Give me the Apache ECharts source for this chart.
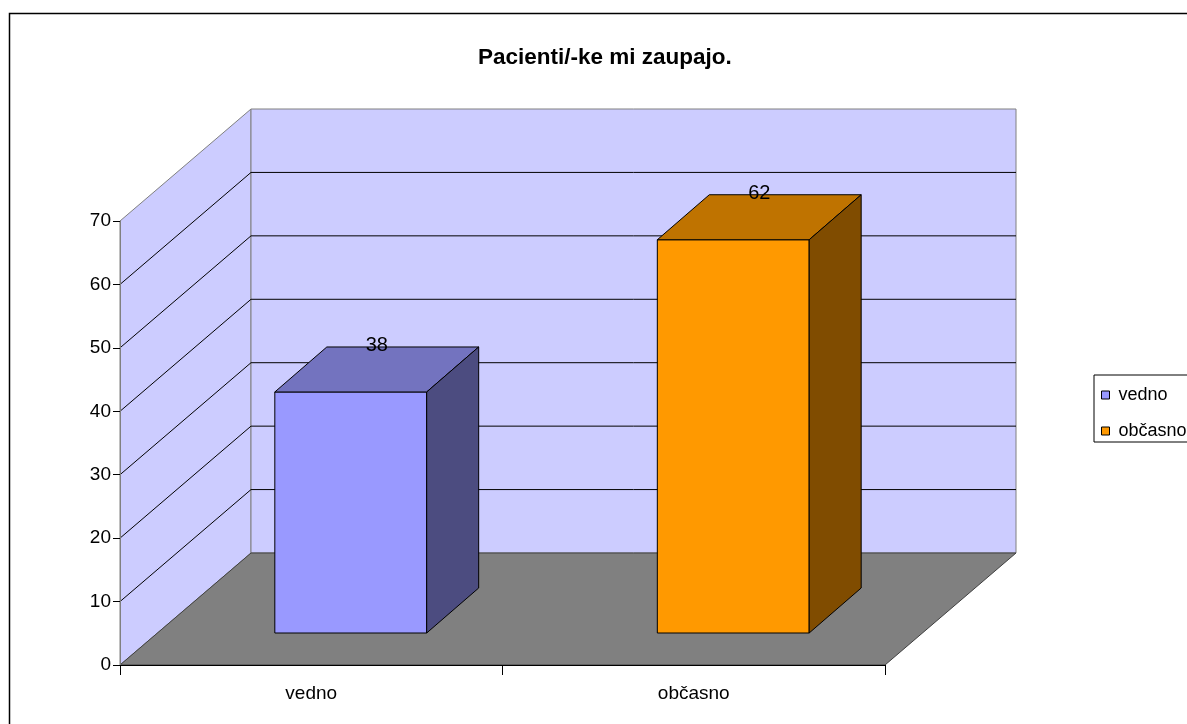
<!DOCTYPE html>
<html>
<head>
<meta charset="utf-8">
<title>Pacienti/-ke mi zaupajo.</title>
<script src="https://cdn.jsdelivr.net/npm/echarts@6/dist/echarts.min.js"></script>
<style>
  html, body { margin: 0; padding: 0; background: #fff; }
  #chart { width: 1187px; height: 724px; }
</style>
</head>
<body>
<div id="chart"></div>
<script>
// Survey answers and their shares (%)
const categories = ['vedno', 'občasno'];
const values = [38, 62];
// Value-axis ticks (also used for the gridlines on the walls)
const yTickValues = [0, 10, 20, 30, 40, 50, 60, 70];

// Face colours per category: front, top, side
const palette = [
  { front: '#9999FF', top: '#7373BF', side: '#4C4C80' },
  { front: '#FF9900', top: '#BF7300', side: '#804C00' }
];

const FONT = '"Liberation Sans", Arial, sans-serif';
// Oblique projection of the chart depth (pixels)
const WALL_DX = 131, WALL_DY = 112;
// Bar placement inside the depth
const BAR_OFF_X = 39.5, BAR_OFF_Y = 32;
const BAR_DX = 52, BAR_DY = 45;
const BAR_WIDTH_RATIO = 0.397;

const yMin = yTickValues[0];
const yMax = yTickValues[yTickValues.length - 1];

function renderWalls(params, api) {
  const cs = params.coordSys;
  const left = cs.x, right = cs.x + cs.width;
  const y0 = api.coord([0, yMin])[1];
  const yTop = api.coord([0, yMax])[1];
  const children = [
    { type: 'polygon', shape: { points: [[left, y0], [left, yTop], [left + WALL_DX, yTop - WALL_DY], [left + WALL_DX, y0 - WALL_DY]] },
      style: { fill: '#CCCCFF', stroke: '#808080', lineWidth: 1 } },
    { type: 'rect', shape: { x: left + WALL_DX, y: yTop - WALL_DY, width: right - left, height: y0 - yTop },
      style: { fill: '#CCCCFF', stroke: '#808080', lineWidth: 1 } },
    { type: 'polygon', shape: { points: [[left, y0], [left + WALL_DX, y0 - WALL_DY], [right + WALL_DX, y0 - WALL_DY], [right, y0]] },
      style: { fill: '#808080', stroke: '#404040', lineWidth: 1 } }
  ];
  yTickValues.forEach(function (v) {
    if (v <= yMin || v >= yMax) return;
    const y = api.coord([0, v])[1];
    children.push({
      type: 'polyline',
      shape: { points: [[left, y], [left + WALL_DX, y - WALL_DY], [right + WALL_DX, y - WALL_DY]] },
      style: { fill: null, stroke: '#000', lineWidth: 1 }
    });
  });
  return { type: 'group', children: children };
}

function renderBar(params, api) {
  const ci = api.value(0);
  const v = api.value(1);
  const base = api.coord([ci, 0]);
  const top = api.coord([ci, v]);
  const band = api.size([1, 0])[0];
  const w = band * BAR_WIDTH_RATIO;
  const cx = base[0] + BAR_OFF_X;
  const x0 = cx - w / 2, x1 = cx + w / 2;
  const yb = base[1] - BAR_OFF_Y;
  const yt = top[1] - BAR_OFF_Y;
  const c = palette[ci];
  const edge = { stroke: '#000', lineWidth: 1 };
  return {
    type: 'group',
    children: [
      { type: 'rect', shape: { x: x0, y: yt, width: w, height: yb - yt },
        style: Object.assign({ fill: c.front }, edge) },
      { type: 'polygon', shape: { points: [[x0, yt], [x0 + BAR_DX, yt - BAR_DY], [x1 + BAR_DX, yt - BAR_DY], [x1, yt]] },
        style: Object.assign({ fill: c.top }, edge) },
      { type: 'polygon', shape: { points: [[x1, yt], [x1 + BAR_DX, yt - BAR_DY], [x1 + BAR_DX, yb - BAR_DY], [x1, yb]] },
        style: Object.assign({ fill: c.side }, edge) },
      { type: 'text', z2: 10,
        style: { text: String(v), x: cx + BAR_DX / 2, y: yt - BAR_DY - 1,
          align: 'center', verticalAlign: 'middle', textAlign: 'center', textVerticalAlign: 'middle',
          fontSize: 20, fontFamily: FONT, fill: '#000' } }
    ]
  };
}

const chart = echarts.init(document.getElementById('chart'), null, { renderer: 'canvas' });

const barSeries = categories.map(function (name, i) {
  return {
    type: 'custom',
    name: name,
    z: 3,
    renderItem: renderBar,
    itemStyle: { color: palette[i].front, borderColor: '#000', borderWidth: 1 },
    data: [[i, values[i]]],
    animation: false
  };
});

chart.setOption({
  animation: false,
  backgroundColor: '#fff',
  title: {
    text: 'Pacienti/-ke mi zaupajo.',
    left: 478,
    top: 46,
    padding: 0,
    textStyle: { fontFamily: FONT, fontSize: 22.5, fontWeight: 'bold', color: '#000' }
  },
  legend: {
    orient: 'vertical',
    left: 1094,
    top: 375,
    padding: [11, 40, 2, 7],
    itemWidth: 8,
    itemHeight: 8,
    itemGap: 18,
    icon: 'rect',
    borderColor: '#000',
    borderWidth: 1,
    backgroundColor: '#fff',
    selectedMode: false,
    textStyle: { fontFamily: FONT, fontSize: 18, color: '#000', padding: [0, 0, 0, 4] },
    data: categories.map(function (name, i) {
      return { name: name, itemStyle: { color: palette[i].front, borderColor: '#000', borderWidth: 1 } };
    })
  },
  grid: { left: 120, right: 302, top: 221, bottom: 59, containLabel: false },
  xAxis: {
    type: 'category',
    data: categories,
    z: 4,
    boundaryGap: true,
    axisLine: { show: true, lineStyle: { color: '#000', width: 1 } },
    axisTick: { show: true, length: 10, lineStyle: { color: '#000' } },
    axisLabel: { fontFamily: FONT, fontSize: 19, color: '#000', margin: 19 },
    splitLine: { show: false }
  },
  yAxis: {
    type: 'value',
    min: yMin,
    max: yMax,
    interval: 10,
    z: 4,
    axisLine: { show: true, lineStyle: { color: '#808080', width: 1 } },
    axisTick: { show: true, length: 7, lineStyle: { color: '#000' } },
    axisLabel: { fontFamily: FONT, fontSize: 19, color: '#000', margin: 9 },
    splitLine: { show: false }
  },
  graphic: [{
    type: 'rect',
    silent: true,
    shape: { x: 9.5, y: 13.5, width: 1300, height: 800 },
    style: { fill: null, stroke: '#000', lineWidth: 1.5 },
    z: -1
  }],
  series: [{
    type: 'custom',
    name: 'walls',
    z: 1,
    silent: true,
    renderItem: renderWalls,
    data: [[0, 0]],
    animation: false
  }].concat(barSeries)
});
</script>
</body>
</html>
